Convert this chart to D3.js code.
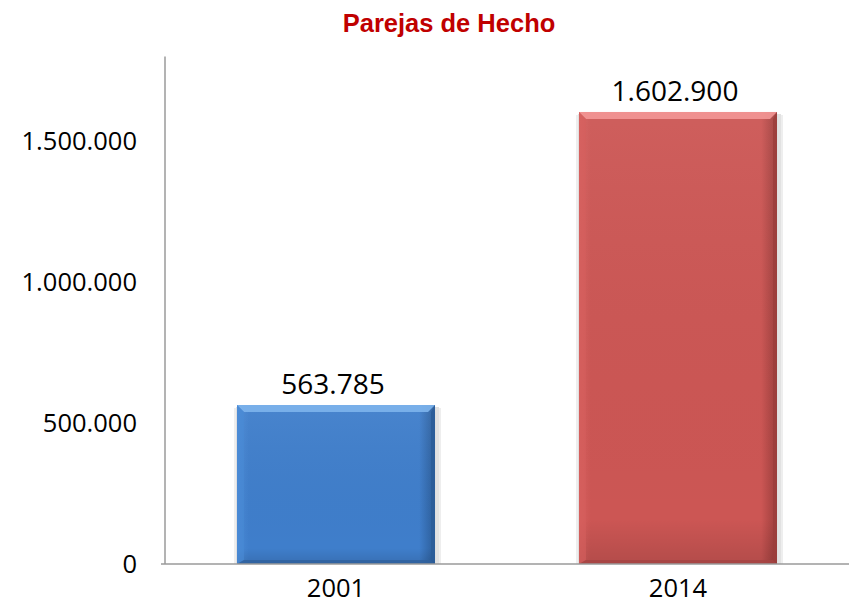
<!DOCTYPE html>
<html>
<head>
<meta charset="utf-8">
<script src="https://cdn.jsdelivr.net/npm/d3@7"></script>
<style>
  html, body { margin: 0; padding: 0; background: #ffffff; }
  svg { display: block; }
</style>
</head>
<body>
<svg id="chart" width="854" height="606"></svg>
<script>
const title = "Parejas de Hecho";
const categories = ["2001", "2014"];
const values = [563785, 1602900];
const yTicks = [0, 500000, 1000000, 1500000];
const yMax = 1800000;

const palettes = [
  { main: "#3f7ecb", light: "#7db4ec", mid: "#4a8ad6", dark: "#2c5d99", bottom: "#30609c" },
  { main: "#cc5654", light: "#f39796", mid: "#d65f5d", dark: "#9c3e3c", bottom: "#a54442" }
];

const W = 854, H = 606;
const margin = { left: 165, right: 5, top: 56, bottom: 42 };
const svg = d3.select("#chart");
const defs = svg.append("defs");

const x = d3.scaleBand().domain(categories)
  .range([margin.left, W - margin.right])
  .paddingInner(0.421).paddingOuter(0.2105);
const y = d3.scaleLinear().domain([0, yMax]).range([H - margin.bottom, margin.top + 0.4]);

const loc = d3.formatLocale({ decimal: ",", thousands: ".", grouping: [3], currency: ["", ""] });
const fmt = loc.format(",d");

// gradients
palettes.forEach((p, i) => {
  const g = defs.append("linearGradient").attr("id", "hg" + i)
    .attr("x1", "0").attr("x2", "1").attr("y1", "0").attr("y2", "0");
  g.append("stop").attr("offset", "0").attr("stop-color", p.mid);
  g.append("stop").attr("offset", "0.06").attr("stop-color", p.main);
  g.append("stop").attr("offset", "0.92").attr("stop-color", p.main);
  g.append("stop").attr("offset", "1").attr("stop-color", p.dark);
  const v = defs.append("linearGradient").attr("id", "vg" + i)
    .attr("x1", "0").attr("x2", "0").attr("y1", "0").attr("y2", "1");
  v.append("stop").attr("offset", "0").attr("stop-color", "#ffffff").attr("stop-opacity", 0.05);
  v.append("stop").attr("offset", "0.9").attr("stop-color", "#000000").attr("stop-opacity", 0.0);
  v.append("stop").attr("offset", "1").attr("stop-color", "#000000").attr("stop-opacity", 0.12);
});

// title
svg.append("text")
  .attr("x", 449).attr("y", 32)
  .attr("text-anchor", "middle")
  .attr("font-family", "'Liberation Sans', Arial, sans-serif")
  .attr("font-weight", "bold")
  .attr("font-size", 25.5)
  .attr("fill", "#c00000")
  .text(title);

const base = y(0);
const bev = 7;

const bars = svg.append("g").selectAll("g").data(values).join("g");

// soft shadows
bars.append("rect")
  .attr("x", (d, i) => x(categories[i]) - 3)
  .attr("y", d => y(d) + 3)
  .attr("width", x.bandwidth() + 9)
  .attr("height", d => base - y(d) - 3)
  .attr("fill", "#eeeeee");
bars.append("rect")
  .attr("x", (d, i) => x(categories[i]) - 1)
  .attr("y", d => y(d) + 2)
  .attr("width", x.bandwidth() + 5)
  .attr("height", d => base - y(d) - 2)
  .attr("fill", "#e2e2e2");

// main body
bars.append("rect")
  .attr("x", (d, i) => x(categories[i]))
  .attr("y", d => y(d))
  .attr("width", x.bandwidth())
  .attr("height", d => base - y(d))
  .attr("fill", (d, i) => `url(#hg${i})`);
bars.append("rect")
  .attr("x", (d, i) => x(categories[i]))
  .attr("y", d => y(d))
  .attr("width", x.bandwidth())
  .attr("height", d => base - y(d))
  .attr("fill", (d, i) => `url(#vg${i})`);

// top bevel
bars.append("path")
  .attr("d", (d, i) => {
    const x0 = x(categories[i]), x1 = x0 + x.bandwidth(), t = y(d);
    return `M${x0},${t}L${x1},${t}L${x1 - bev},${t + bev}L${x0 + bev},${t + bev}Z`;
  })
  .attr("fill", (d, i) => palettes[i].light)
  .attr("opacity", 0.9);
// left bevel
bars.append("path")
  .attr("d", (d, i) => {
    const x0 = x(categories[i]), t = y(d);
    return `M${x0},${t}L${x0 + bev},${t + bev}L${x0 + bev},${base - 4}L${x0},${base}Z`;
  })
  .attr("fill", (d, i) => palettes[i].mid)
  .attr("opacity", 0.6);
// right bevel
bars.append("path")
  .attr("d", (d, i) => {
    const x1 = x(categories[i]) + x.bandwidth(), t = y(d);
    return `M${x1},${t}L${x1 - 4},${t + bev}L${x1 - 4},${base - 4}L${x1},${base}Z`;
  })
  .attr("fill", (d, i) => palettes[i].dark)
  .attr("opacity", 0.85);
// bottom bevel
bars.append("path")
  .attr("d", (d, i) => {
    const x0 = x(categories[i]), x1 = x0 + x.bandwidth();
    return `M${x0},${base}L${x0 + bev},${base - 4}L${x1 - 4},${base - 4}L${x1},${base}Z`;
  })
  .attr("fill", (d, i) => palettes[i].bottom)
  .attr("opacity", 0.8);

// value labels
bars.append("text")
  .attr("x", (d, i) => x(categories[i]) + x.bandwidth() / 2 - 3)
  .attr("y", d => y(d) - 11)
  .attr("text-anchor", "middle")
  .attr("font-family", "'Open Sans', 'Liberation Sans', sans-serif")
  .attr("font-size", 28)
  .attr("fill", "#000")
  .text(d => fmt(d));

// axes
const axisColor = "#9a9a9a";
svg.append("line")
  .attr("x1", margin.left).attr("x2", margin.left)
  .attr("y1", y(yMax)).attr("y2", base)
  .attr("stroke", axisColor).attr("stroke-width", 1.5);
svg.append("line")
  .attr("x1", margin.left - 4).attr("x2", W - margin.right)
  .attr("y1", base).attr("y2", base)
  .attr("stroke", axisColor).attr("stroke-width", 1.5);

const yAxis = d3.axisLeft(y).tickValues(yTicks).tickFormat(fmt).tickSize(0).tickPadding(28);
const yg = svg.append("g").attr("transform", `translate(${margin.left},0)`).call(yAxis);
yg.select(".domain").remove();
yg.selectAll("text")
  .attr("font-family", "'Open Sans', 'Liberation Sans', sans-serif")
  .attr("font-size", 25.5)
  .attr("fill", "#000");

const xAxis = d3.axisBottom(x).tickSize(0).tickPadding(15);
const xg = svg.append("g").attr("transform", `translate(0,${base})`).call(xAxis);
xg.select(".domain").remove();
xg.selectAll("text")
  .attr("font-family", "'Open Sans', 'Liberation Sans', sans-serif")
  .attr("font-size", 25.5)
  .attr("fill", "#000");
</script>
</body>
</html>
